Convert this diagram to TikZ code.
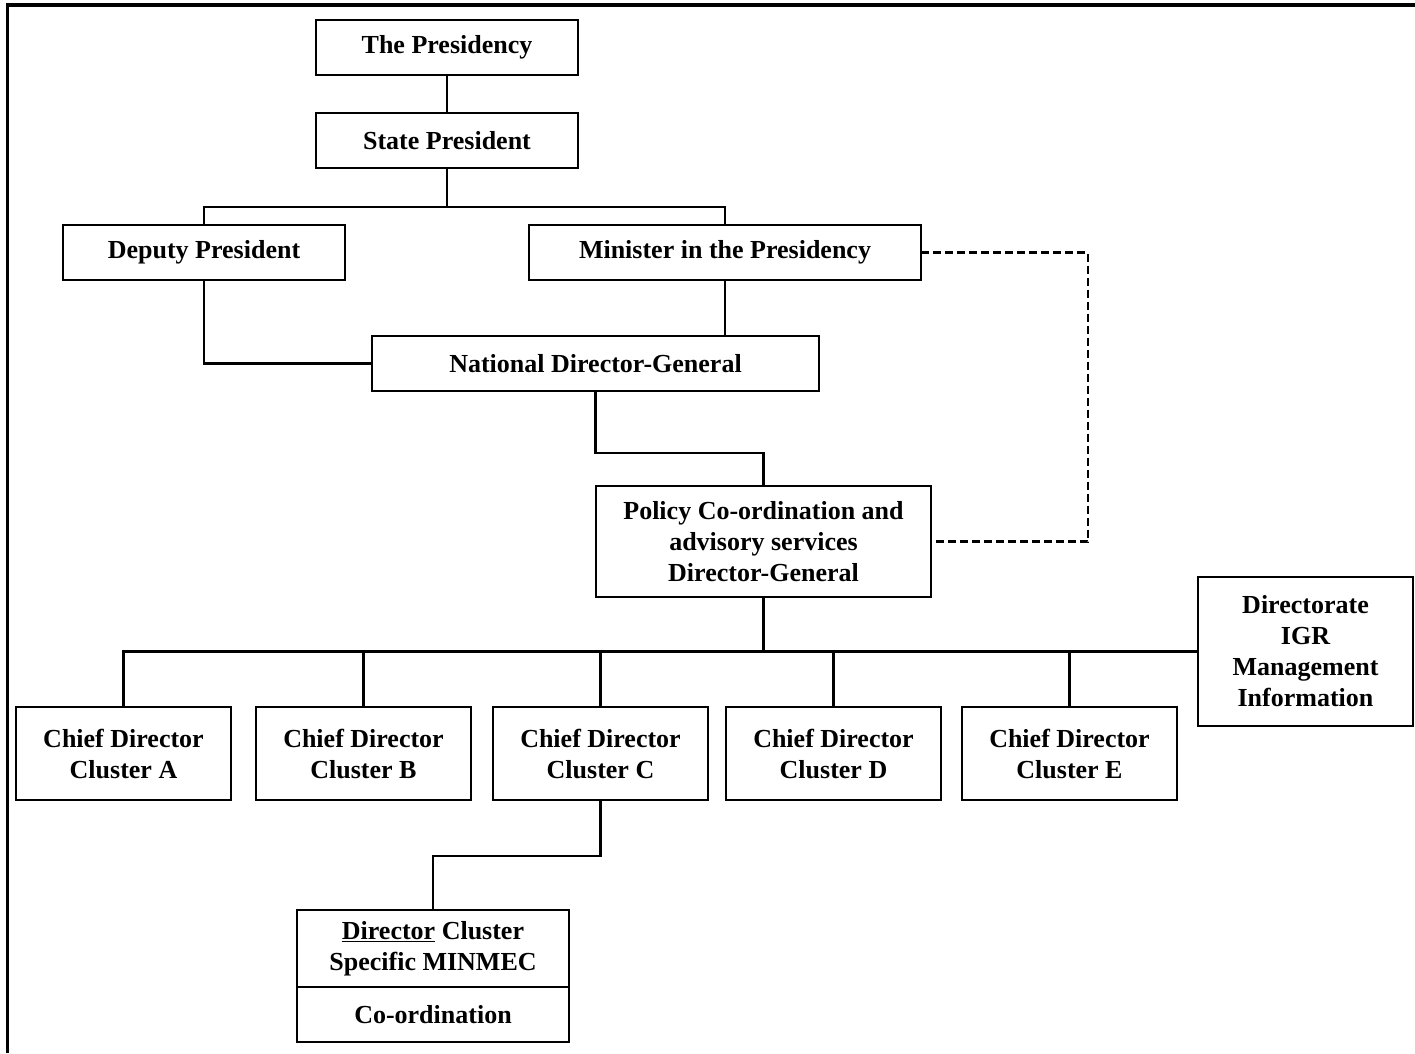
\documentclass[tikz,border=0pt]{standalone}
\usepackage{fontspec}
\setmainfont{Liberation Serif}
\begin{document}
\begin{tikzpicture}[x=1pt,y=-1pt,
  box/.style={draw,line width=2.4pt,align=center,inner sep=0pt,outer sep=0pt,
    font=\fontsize{26}{31}\selectfont\bfseries},
  conn/.style={line width=2.4pt},
  dashconn/.style={line width=2.4pt,dash pattern=on 8pt off 4pt}]
\useasboundingbox (0,0) rectangle (1415,1053);
\draw[line width=3.5pt] (7.5,1053) -- (7.5,5) -- (1415,5);

\node[box,minimum width=262,minimum height=55] (pres) at (447,47.5) {The Presidency};
\node[box,minimum width=262,minimum height=55] (sp) at (447,140.5) {State President};
\node[box,minimum width=282,minimum height=55] (dep) at (204,252.5) {Deputy President};
\node[box,minimum width=392,minimum height=55] (min) at (725,252.5) {Minister in the Presidency};
\node[box,minimum width=447,minimum height=55] (ndg) at (595.5,363.5) {National Director-General};
\node[box,minimum width=335,minimum height=111] (pol) at (763.5,541.5) {Policy Co-ordination and\\advisory services\\Director-General};
\node[box,minimum width=215,minimum height=149] (igr) at (1305.5,651.5) {Directorate\\IGR\\Management\\Information};
\node[box,minimum width=215,minimum height=93] (ca) at (123.5,753.5) {Chief Director\\Cluster A};
\node[box,minimum width=215,minimum height=93] (cb) at (363.5,753.5) {Chief Director\\Cluster B};
\node[box,minimum width=215,minimum height=93] (cc) at (600.5,753.5) {Chief Director\\Cluster C};
\node[box,minimum width=215,minimum height=93] (cd) at (833.5,753.5) {Chief Director\\Cluster D};
\node[box,minimum width=215,minimum height=93] (ce) at (1069.5,753.5) {Chief Director\\Cluster E};
\node[box,minimum width=272,minimum height=77] (dirtop) at (433,948.5) {\underline{Director} Cluster\\Specific MINMEC};
\node[box,minimum width=272,minimum height=55,anchor=north] (dirbot) at (dirtop.south) {Co-ordination};

\coordinate (s1) at (447,207);
\coordinate (j2) at (763.5,453);
\coordinate (dj) at (1088,252.5);
\coordinate (j3) at (433,856);

\draw[conn] (pres) -- (sp);
\draw[conn] (sp.south) -- (s1);
\draw[conn] (dep.north) |- (s1) -| (min.north);
\draw[conn] (dep.south) |- (ndg.west);
\draw[conn] (min.south) -- (min.south |- ndg.north);
\draw[conn] (ndg.south) |- (j2) -- (pol.north);
\draw[dashconn] (min.east) -- (dj) |- (pol.east);
\draw[conn] (pol.south) -- (pol.south |- igr.west);
\draw[conn] (ca.north) |- (igr.west);
\draw[conn] (cb.north) -- (cb.north |- igr.west);
\draw[conn] (cc.north) -- (cc.north |- igr.west);
\draw[conn] (cd.north) -- (cd.north |- igr.west);
\draw[conn] (ce.north) -- (ce.north |- igr.west);
\draw[conn] (cc.south) |- (j3) -- (dirtop.north);
\end{tikzpicture}
\end{document}
